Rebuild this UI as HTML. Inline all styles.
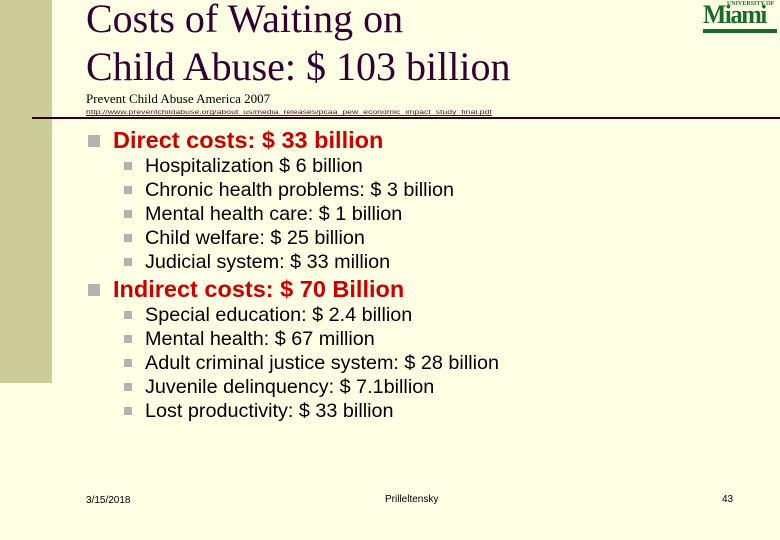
<!DOCTYPE html>
<html><head><meta charset="utf-8"><style>
body{margin:0;width:780px;height:540px;overflow:hidden;background:#ffffe6;position:relative;font-family:"Liberation Sans",sans-serif}
.a{position:absolute;white-space:nowrap}
.t{font-family:"Liberation Serif",serif;font-size:40px;color:#330033;left:86px}
.h{left:88px;font-size:23.5px;font-weight:bold;color:#cc0000}
.h:before{content:"";position:absolute;left:0;top:8px;width:12px;height:12px;background:#b3b3b3}
.h span{margin-left:25px}
.s{left:124px;font-size:19.8px;color:#000}
.s:before{content:"";position:absolute;left:0;top:7px;width:8px;height:8px;background:#b3b3b3}
.s span{margin-left:21px}
</style></head><body>
<div class="a" style="left:0;top:0;width:52px;height:383px;background:#cccc99"></div>
<div class="a t" style="top:-5px">Costs of Waiting on</div>
<div class="a t" style="top:43px">Child Abuse: $ 103 billion</div>
<div class="a" style="left:703px;top:0;width:74px;height:34px;color:#1a6b2a">
<div style="position:absolute;left:24px;top:1px;font-size:6px;font-weight:bold;font-family:'Liberation Serif',serif">UNIVERSITY OF</div>
<div style="position:absolute;left:0;top:0px;font-size:26px;font-weight:bold;font-family:'Liberation Serif',serif;letter-spacing:-1.5px;transform:scaleX(0.95);transform-origin:left">Miami</div>
<div style="position:absolute;left:0;top:29px;width:74px;height:4px;background:#1a6b2a"></div></div>
<div class="a" style="left:86px;top:91px;font-family:'Liberation Serif',serif;font-size:13px;color:#000">Prevent Child Abuse America 2007</div>
<div class="a" style="left:86px;top:110px;font-size:6px;color:#660033;text-decoration:underline;transform:scaleX(1.45);transform-origin:left">http://www.preventchildabuse.org/about_us/media_releases/pcaa_pew_economic_impact_study_final.pdf</div>
<div class="a" style="left:32px;top:117px;width:748px;height:2px;background:#330011"></div>
<div class="a h" style="top:127px"><span>Direct costs: $ 33 billion</span></div>
<div class="a s" style="top:155px"><span>Hospitalization $ 6 billion</span></div>
<div class="a s" style="top:179px"><span>Chronic health problems: $ 3 billion</span></div>
<div class="a s" style="top:203px"><span>Mental health care: $ 1 billion</span></div>
<div class="a s" style="top:227px"><span>Child welfare: $ 25 billion</span></div>
<div class="a s" style="top:251px"><span>Judicial system: $ 33 million</span></div>
<div class="a h" style="top:276px"><span>Indirect costs: $ 70 Billion</span></div>
<div class="a s" style="top:304px"><span>Special education: $ 2.4 billion</span></div>
<div class="a s" style="top:328px"><span>Mental health: $ 67 million</span></div>
<div class="a s" style="top:352px"><span>Adult criminal justice system: $ 28 billion</span></div>
<div class="a s" style="top:376px"><span>Juvenile delinquency: $ 7.1billion</span></div>
<div class="a s" style="top:400px"><span>Lost productivity: $ 33 billion</span></div>
<div class="a" style="left:86px;top:495px;font-size:10px">3/15/2018</div>
<div class="a" style="left:385px;top:494px;font-size:10px">Prilleltensky</div>
<div class="a" style="left:722px;top:494px;font-size:10px">43</div>
</body></html>
